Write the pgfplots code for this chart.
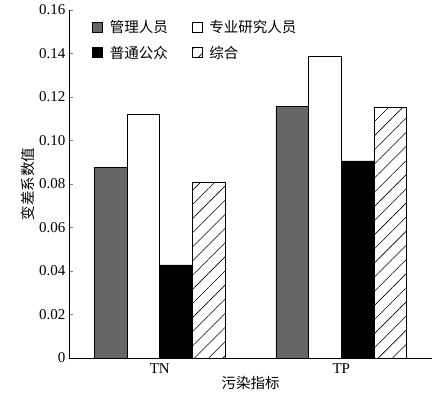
\documentclass[border=0pt]{standalone}
\usepackage{fontspec}
\setmainfont{Liberation Serif}
\newfontfamily\cjk{Noto Sans CJK SC}
\usepackage{pgfplots}
\pgfplotsset{compat=1.18}
\usetikzlibrary{patterns.meta}
\begin{document}
\begin{tikzpicture}[x=1pt,y=1pt]
\useasboundingbox (0,0) rectangle (444,397);
\begin{axis}[
  at={(69pt,39pt)}, anchor=south west,
  scale only axis, width=363pt, height=348pt,
  ybar=0pt, bar width=0.18,
  xmin=-0.5, xmax=1.5, ymin=0, ymax=0.16,
  xtick={0,1}, xticklabels={TN,TP},
  ytick={0,0.02,...,0.16},
  yticklabels={0,0.02,0.04,0.06,0.08,0.10,0.12,0.14,0.16},
  axis x line*=bottom, axis y line*=left,
  axis line style={line width=0.8pt,-},
  major x tick style={draw=none},
  ytick style={line width=0.6pt},
  tick align=inside, major tick length=4pt,
  /pgf/number format/assume math mode=true,
  tick label style={font=\fontsize{15}{17}\selectfont},
  xticklabel style={yshift=-2pt},
  xlabel={\cjk 污染指标}, ylabel={\cjk 变差系数值},
  label style={font=\fontsize{14.5}{16}\selectfont},
  xlabel style={yshift=4pt},
  ylabel style={yshift=-2pt},
  legend columns=2,
  legend style={draw=none, fill=none, at={(0.055,0.983)}, anchor=north west,
    font=\fontsize{14.5}{16}\selectfont\cjk, row sep=8pt,
    /tikz/every odd column/.append style={column sep=5pt},
    /tikz/every even column/.append style={column sep=22pt}},
  legend cell align=left,
  legend image code/.code={\draw[#1,line width=0.6pt] (0pt,-5pt) rectangle (10pt,5pt);},
]
\addplot[draw=black, line width=0.6pt, fill=black!60] coordinates {(0,0.0878) (1,0.1155)};
\addplot[draw=black, line width=0.6pt, fill=white] coordinates {(0,0.1122) (1,0.1388)};
\addplot[draw=black, line width=0.6pt, fill=black] coordinates {(0,0.0428) (1,0.0906)};
\addplot[draw=black, line width=0.6pt, pattern={Lines[angle=45,distance=10pt,line width=0.6pt]}] coordinates {(0,0.0809) (1,0.1152)};
\legend{管理人员,专业研究人员,普通公众,综合}
\end{axis}
\end{tikzpicture}
\end{document}
